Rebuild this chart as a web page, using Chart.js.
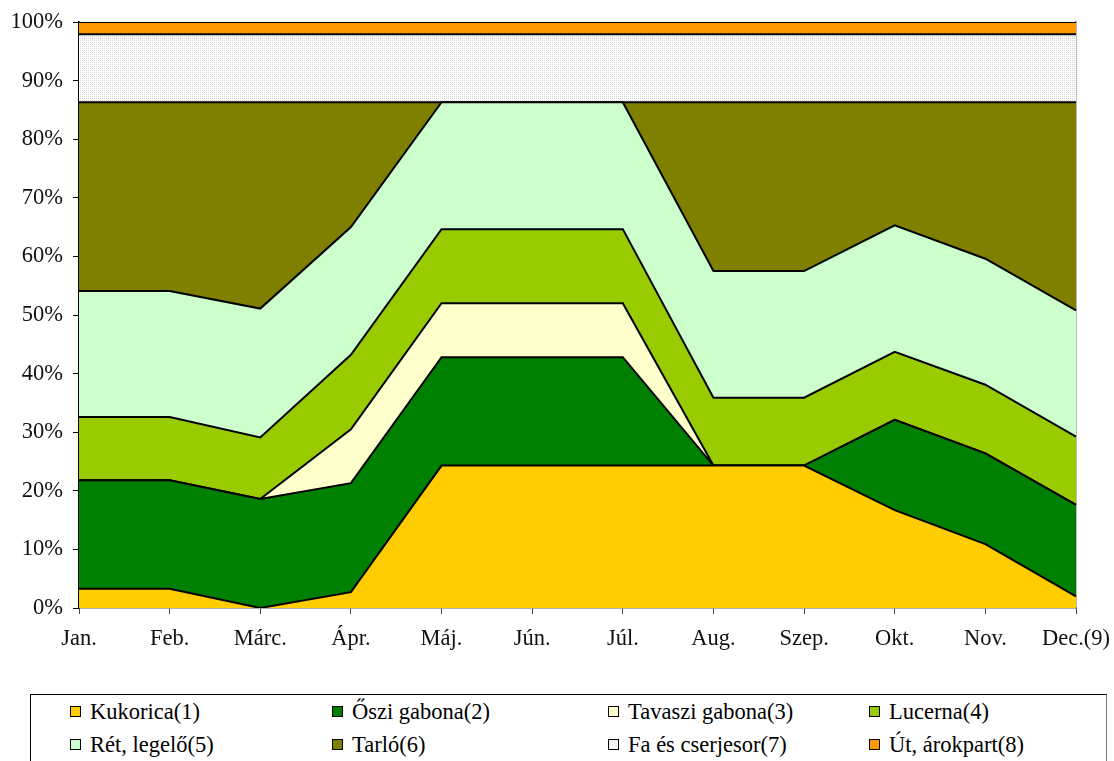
<!DOCTYPE html>
<html>
<head>
<meta charset="utf-8">
<script src="https://cdn.jsdelivr.net/npm/chart.js@4.4.1/dist/chart.umd.min.js"></script>
<style>
  body { margin: 0; background: #fff; }
  #wrap { position: relative; width: 1114px; height: 761px; overflow: hidden; }
  #myChart { position: absolute; left: 0; top: 0; }
  #legend {
    position: absolute; left: 30px; top: 694px; width: 1077px; height: 90px;
    border: 1px solid #000; border-right-color: #808080; box-sizing: border-box;
    font-family: "Liberation Serif", "Times New Roman", serif; font-size: 22.5px; color: #000;
  }
  .item { position: absolute; white-space: nowrap; line-height: 24px; }
  .box { position: absolute; width: 9px; height: 9px; border: 1.5px solid #000; }
</style>
</head>
<body>
<div id="wrap">
  <canvas id="myChart" width="1114" height="680"></canvas>
  <div id="legend"></div>
</div>
<script>
const months = ["Jan.", "Feb.", "Márc.", "Ápr.", "Máj.", "Jún.", "Júl.", "Aug.", "Szep.", "Okt.", "Nov.", "Dec.(9)"];

// share of each land use per month (%)
const kukorica = [3.3, 3.3, 0, 2.7, 24.3, 24.3, 24.3, 24.3, 24.3, 16.7, 10.9, 2.0];
const osziGabona = [18.5, 18.5, 18.6, 18.6, 18.5, 18.5, 18.5, 0, 0, 15.4, 15.5, 15.6];
const tavasziGabona = [0, 0, 0, 9.2, 9.2, 9.2, 9.2, 0, 0, 0, 0, 0];
const lucerna = [10.8, 10.8, 10.5, 12.7, 12.65, 12.65, 12.65, 11.6, 11.6, 11.6, 11.7, 11.65];
const ret = [21.5, 21.5, 22.0, 21.8, 21.65, 21.65, 21.65, 21.6, 21.6, 21.6, 21.5, 21.55];
const tarlo = [32.2, 32.2, 35.2, 21.3, 0, 0, 0, 28.8, 28.8, 21.0, 26.7, 35.5];
const faCserje = [11.6, 11.6, 11.6, 11.6, 11.6, 11.6, 11.6, 11.6, 11.6, 11.6, 11.6, 11.6];
const utArok = [2.1, 2.1, 2.1, 2.1, 2.1, 2.1, 2.1, 2.1, 2.1, 2.1, 2.1, 2.1];

const seriesNames = ["Kukorica(1)", "Őszi gabona(2)", "Tavaszi gabona(3)", "Lucerna(4)",
  "Rét, legelő(5)", "Tarló(6)", "Fa és cserjesor(7)", "Út, árokpart(8)"];
const seriesData = [kukorica, osziGabona, tavasziGabona, lucerna, ret, tarlo, faCserje, utArok];

// dotted fill for the tree row series
const pc = document.createElement("canvas");
pc.width = 2; pc.height = 2;
const pctx = pc.getContext("2d");
pctx.fillStyle = "#fff"; pctx.fillRect(0, 0, 2, 2);
pctx.fillStyle = "#d6d6d6"; pctx.fillRect(0, 0, 1, 1);
const ctx = document.querySelector("#myChart").getContext("2d");
const dotted = ctx.createPattern(pc, "repeat");

const colors = ["#FFCC00", "#008000", "#FFFFCC", "#99CC00", "#CCFFCC", "#808000", dotted, "#FF9900"];
const legendColors = ["#FFCC00", "#008000", "#FFFFCC", "#99CC00", "#CCFFCC", "#808000", "#f3f3f3", "#FF9900"];

const font = { family: "'Liberation Serif', 'Times New Roman', serif", size: 22.5 };

const chart = new Chart(ctx, {
  type: "line",
  data: {
    labels: months,
    datasets: seriesData.map((d, i) => ({
      label: seriesNames[i],
      data: d,
      backgroundColor: colors[i],
      borderColor: "#000",
      borderWidth: 2,
      fill: i === 0 ? "origin" : "-1",
      pointRadius: 0,
      tension: 0,
    })),
  },
  options: {
    responsive: false,
    animation: false,
    layout: { padding: { left: 0, top: 22, right: 38, bottom: 0 } },
    plugins: { legend: { display: false }, tooltip: { enabled: false } },
    scales: {
      x: {
        offset: false,
        grid: { drawOnChartArea: false, tickLength: 6, color: "#444" },
        border: { color: "#666", width: 1.5 },
        ticks: { font: font, color: "#111", padding: 12, maxRotation: 0, autoSkip: false },
        afterFit: (s) => { s.height = 72; s.paddingLeft = 0; s.paddingRight = 0; },
      },
      y: {
        stacked: true,
        min: 0,
        max: 100,
        grid: { drawOnChartArea: false, tickLength: 6, color: "#000" },
        border: { color: "#000", width: 1.5 },
        ticks: { stepSize: 10, font: font, color: "#111", padding: 10, callback: (v) => v + "%" },
        afterFit: (s) => { s.width = 79; s.paddingTop = 0; s.paddingBottom = 0; },
      },
      y2: {
        position: "right",
        grid: { display: false },
        ticks: { display: false },
        border: { color: "#777", width: 1.5 },
        afterFit: (s) => { s.width = 0; s.paddingTop = 0; s.paddingBottom = 0; },
      },
    },
  },
});

// legend in a 4 column grid under the chart
const legend = document.getElementById("legend");
const colX = [39, 301, 577, 838];
const rowY = [17, 50];
chart.data.datasets.forEach((ds, i) => {
  const col = i % 4;
  const row = Math.floor(i / 4);
  const box = document.createElement("div");
  box.className = "box";
  box.style.left = colX[col] + "px";
  box.style.top = (rowY[row] - 6) + "px";
  box.style.background = legendColors[i];
  legend.appendChild(box);
  const txt = document.createElement("div");
  txt.className = "item";
  txt.style.left = (colX[col] + 20) + "px";
  txt.style.top = (rowY[row] - 12) + "px";
  txt.textContent = ds.label;
  legend.appendChild(txt);
});
</script>
</body>
</html>
